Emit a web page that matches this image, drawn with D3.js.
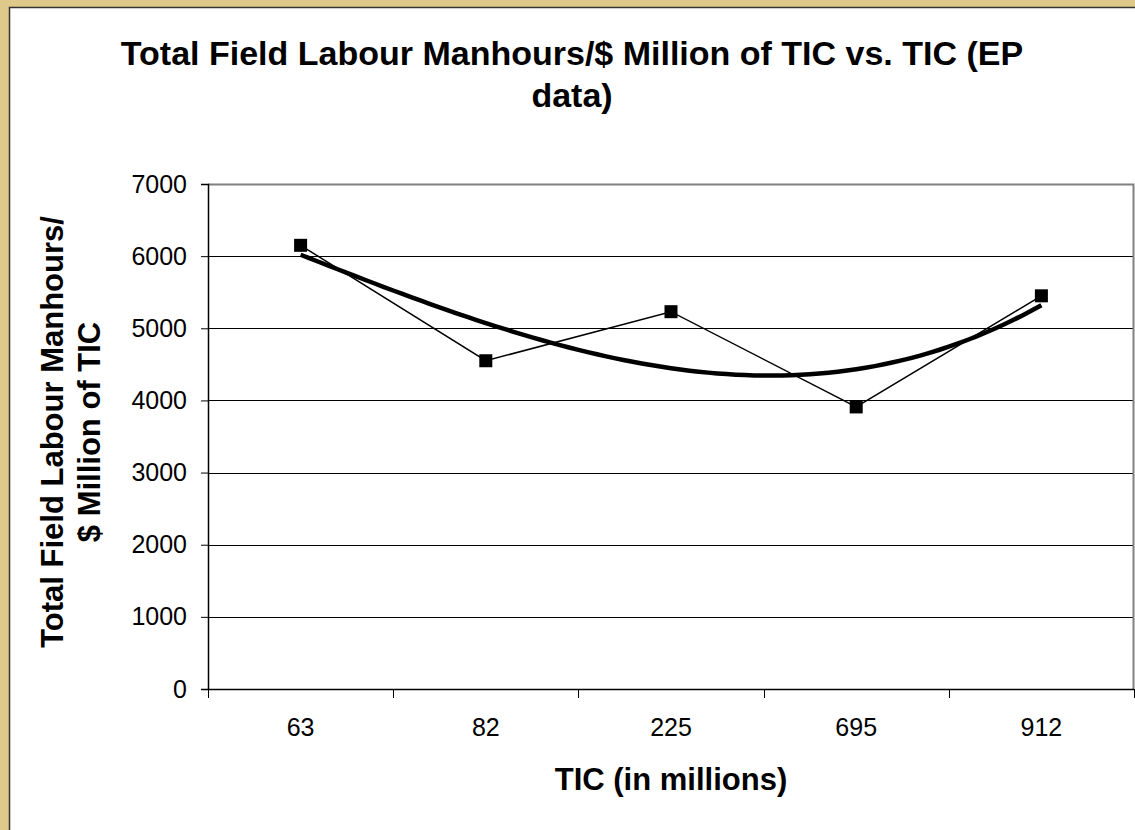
<!DOCTYPE html>
<html>
<head>
<meta charset="utf-8">
<script src="https://cdn.jsdelivr.net/npm/d3@7"></script>
<style>
  html, body { margin: 0; padding: 0; background: #dfc98a; overflow: hidden; }
  svg { display: block; font-family: "Liberation Sans", Arial, sans-serif; }
</style>
</head>
<body>
<div id="chart"></div>
<script>
var categories = ["63", "82", "225", "695", "912"];
var values = [6150, 4550, 5230, 3910, 5450];
var yTicks = [0, 1000, 2000, 3000, 4000, 5000, 6000, 7000];
var titleLines = ["Total Field Labour Manhours/$ Million of TIC vs. TIC (EP", "data)"];
var yTitleLines = ["Total Field Labour Manhours/", "$ Million of TIC"];
var xTitle = "TIC (in millions)";

var W = 1135, H = 830;
var margin = {top: 184, right: 1, bottom: 141, left: 208},
    width = W - margin.left - margin.right,
    height = H - margin.top - margin.bottom;

var svg = d3.select("#chart").append("svg")
    .attr("width", W)
    .attr("height", H);

// chart area frame
svg.append("rect")
  .attr("x", 9.5).attr("y", 7.5)
  .attr("width", W + 10).attr("height", H + 10)
  .attr("fill", "#fff").attr("stroke", "#333").attr("stroke-width", 1.5);

var g = svg.append("g")
  .attr("transform", "translate(" + margin.left + "," + margin.top + ")");

var x = d3.scaleBand().domain(categories).range([0, width]);
var y = d3.scaleLinear().domain([0, 7000]).range([height, 0]);

// gridlines
g.selectAll(".grid")
  .data(yTicks.filter(function(d) { return d > 0 && d < 7000; }))
  .enter().append("line")
  .attr("x1", 0).attr("x2", width)
  .attr("y1", function(d) { return Math.round(y(d)) + 0.5; })
  .attr("y2", function(d) { return Math.round(y(d)) + 0.5; })
  .attr("stroke", "#000").attr("stroke-width", 1);

// plot area border (top / right)
g.append("path")
  .attr("d", "M0,0.5H" + (width - 0.5) + "V" + height)
  .attr("fill", "none").attr("stroke", "#808080").attr("stroke-width", 2);

// y axis
var yAxis = d3.axisLeft(y).tickValues(yTicks).tickFormat(d3.format("d")).tickSize(7).tickPadding(14);
var ya = g.append("g").attr("class", "y axis").call(yAxis)
  .attr("font-size", 25).attr("font-family", null);
ya.select(".domain").attr("stroke", "#000").attr("stroke-width", 1.5);
ya.selectAll(".tick line").attr("stroke", "#000");
ya.selectAll("text").attr("fill", "#000");

// x axis with ticks between categories
var xa = g.append("g").attr("class", "x axis")
  .attr("transform", "translate(0," + height + ")");
xa.append("line").attr("x1", 0).attr("x2", width).attr("y1", 0.5).attr("y2", 0.5)
  .attr("stroke", "#000").attr("stroke-width", 1.5);
var bounds = categories.map(function(c) { return x(c); }).concat([width]);
xa.selectAll(".xt").data(bounds).enter().append("line")
  .attr("x1", function(d) { return Math.round(d) + 0.5; })
  .attr("x2", function(d) { return Math.round(d) + 0.5; })
  .attr("y1", 0).attr("y2", 9)
  .attr("stroke", "#000");
xa.selectAll(".xl").data(categories).enter().append("text")
  .attr("x", function(d) { return x(d) + x.bandwidth() / 2; })
  .attr("y", 47)
  .attr("text-anchor", "middle")
  .attr("font-size", 25)
  .text(function(d) { return d; });

// cubic polynomial trendline (least squares on category index), as in the source chart
function polyFit(xs, ys, order) {
  var n = order + 1, A = [], b = [];
  for (var i = 0; i < n; i++) {
    A.push([]);
    for (var j = 0; j < n; j++) A[i].push(d3.sum(xs, function(v) { return Math.pow(v, i + j); }));
    b.push(d3.sum(xs, function(v, k) { return ys[k] * Math.pow(v, i); }));
  }
  for (var c = 0; c < n; c++) {
    for (var r = c + 1; r < n; r++) {
      var f = A[r][c] / A[c][c];
      for (var k = c; k < n; k++) A[r][k] -= f * A[c][k];
      b[r] -= f * b[c];
    }
  }
  var coef = new Array(n);
  for (var r2 = n - 1; r2 >= 0; r2--) {
    var s = b[r2];
    for (var k2 = r2 + 1; k2 < n; k2++) s -= A[r2][k2] * coef[k2];
    coef[r2] = s / A[r2][r2];
  }
  return function(t) { return d3.sum(coef, function(cc, p) { return cc * Math.pow(t, p); }); };
}
var idx = categories.map(function(d, i) { return i + 1; });
var trend = polyFit(idx, values, 3);
var xi = d3.scaleLinear().domain([1, categories.length])
  .range([x(categories[0]) + x.bandwidth() / 2, x(categories[categories.length - 1]) + x.bandwidth() / 2]);
var trendPts = d3.range(1, categories.length + 0.001, 0.05);
g.append("path")
  .datum(trendPts)
  .attr("fill", "none").attr("stroke", "#000").attr("stroke-width", 4.5)
  .attr("d", d3.line()
    .x(function(t) { return xi(t); })
    .y(function(t) { return y(trend(t)); }));

// data series
var line = d3.line()
  .x(function(d, i) { return x(categories[i]) + x.bandwidth() / 2; })
  .y(function(d) { return y(d); });
g.append("path").datum(values)
  .attr("fill", "none").attr("stroke", "#000").attr("stroke-width", 1.5)
  .attr("d", line);
g.selectAll(".dot").data(values).enter().append("rect")
  .attr("class", "dot")
  .attr("x", function(d, i) { return x(categories[i]) + x.bandwidth() / 2 - 6.5; })
  .attr("y", function(d) { return y(d) - 6.5; })
  .attr("width", 13).attr("height", 13)
  .attr("fill", "#000");

// titles
svg.append("text")
  .attr("x", 572).attr("y", 65)
  .attr("text-anchor", "middle").attr("font-size", 34).attr("font-weight", "bold")
  .selectAll("tspan").data(titleLines).enter().append("tspan")
  .attr("x", 572).attr("dy", function(d, i) { return i ? 42 : 0; })
  .text(function(d) { return d; });

svg.append("text")
  .attr("transform", "translate(63,432) rotate(-90)")
  .attr("text-anchor", "middle").attr("font-size", 31).attr("font-weight", "bold")
  .selectAll("tspan").data(yTitleLines).enter().append("tspan")
  .attr("x", 0).attr("dy", function(d, i) { return i ? 37 : 0; })
  .text(function(d) { return d; });

svg.append("text")
  .attr("x", 671).attr("y", 790)
  .attr("text-anchor", "middle").attr("font-size", 31).attr("font-weight", "bold")
  .text(xTitle);
</script>
</body>
</html>
